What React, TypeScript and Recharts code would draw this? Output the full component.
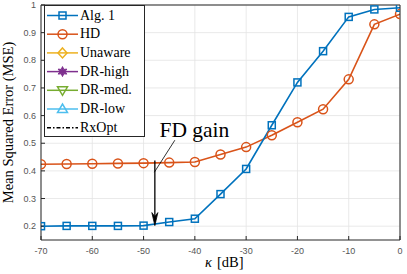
import React from 'react';
import {
  LineChart,
  Line,
  XAxis,
  YAxis,
  CartesianGrid,
  Legend,
  ReferenceLine,
  ReferenceDot,
  Label,
} from 'recharts';

const kappa = [-70, -65, -60, -55, -50, -45, -40, -35, -30, -25, -20, -15, -10, -5, 0];
const alg1 = [0.2, 0.201, 0.201, 0.201, 0.202, 0.215, 0.227, 0.316, 0.407, 0.565, 0.72, 0.833, 0.957, 0.984, 0.99];
const hd = [0.424, 0.425, 0.426, 0.427, 0.428, 0.43, 0.432, 0.459, 0.486, 0.529, 0.576, 0.623, 0.731, 0.93, 0.967];
const xTicks = [-70, -60, -50, -40, -30, -20, -10, 0];
const yTicks = [0.2, 0.3, 0.4, 0.5, 0.6, 0.7, 0.8, 0.9, 1];
const legendNames = ['Alg. 1', 'HD', 'Unaware', 'DR-high', 'DR-med.', 'DR-low', 'RxOpt'];
const legendColors = ['#0072BD', '#D95319', '#EDB120', '#7E2F8E', '#77AC30', '#4DBEEE', '#000000'];
const legendMarkers = ['square', 'circle', 'diamond', 'star', 'tridown', 'triup', 'none'];
const annotationText = 'FD gain';
const arrowX = -47.8;

const data = kappa.map((k, i) => ({ k, alg1: alg1[i], hd: hd[i] }));

const SERIF = '"Liberation Serif", serif';
const SANS = '"Liberation Sans", sans-serif';
const AXIS = '#262626';

const SquareDot = (p: any) => {
  if (p.cx == null || p.cy == null) return <g key={p.index} />;
  return (
    <rect
      key={p.index}
      x={p.cx - 3.5}
      y={p.cy - 3.5}
      width={7}
      height={7}
      fill="none"
      stroke={legendColors[0]}
      strokeWidth={1.5}
    />
  );
};

const marker = (type: string, cx: number, cy: number, color: string) => {
  switch (type) {
    case 'square':
      return <rect x={cx - 3.5} y={cy - 3.5} width={7} height={7} fill="none" stroke={color} strokeWidth={1.5} />;
    case 'circle':
      return <circle cx={cx} cy={cy} r={4.5} fill="none" stroke={color} strokeWidth={1.5} />;
    case 'diamond':
      return (
        <path
          d={`M${cx},${cy - 5} L${cx + 4.5},${cy} L${cx},${cy + 5} L${cx - 4.5},${cy} Z`}
          fill="none"
          stroke={color}
          strokeWidth={1.5}
        />
      );
    case 'star': {
      const pts: string[] = [];
      for (let i = 0; i < 12; i++) {
        const r = i % 2 === 0 ? 5 : 2.5;
        const a = (Math.PI / 6) * i - Math.PI / 2;
        pts.push(`${cx + r * Math.cos(a)},${cy + r * Math.sin(a)}`);
      }
      return <polygon points={pts.join(' ')} fill={color} stroke={color} strokeWidth={1} />;
    }
    case 'tridown':
      return (
        <path
          d={`M${cx - 5},${cy - 3.5} L${cx + 5},${cy - 3.5} L${cx},${cy + 5} Z`}
          fill="none"
          stroke={color}
          strokeWidth={1.5}
        />
      );
    case 'triup':
      return (
        <path
          d={`M${cx - 5},${cy + 3.5} L${cx + 5},${cy + 3.5} L${cx},${cy - 5} Z`}
          fill="none"
          stroke={color}
          strokeWidth={1.5}
        />
      );
    default:
      return null;
  }
};

const renderLegend = () => (
  <div
    style={{
      position: 'relative',
      width: 101,
      height: 132,
      border: `1px solid ${AXIS}`,
      background: '#fff',
      boxSizing: 'border-box',
    }}
  >
    <svg width={36} height={130} style={{ position: 'absolute', left: 0, top: 0 }}>
      {legendNames.map((name, i) => {
        const cy = 9.5 + i * 18.7;
        const color = legendColors[i];
        return (
          <g key={name}>
            <line
              x1={2}
              x2={33}
              y1={cy}
              y2={cy}
              stroke={color}
              strokeWidth={1.5}
              strokeDasharray={legendMarkers[i] === 'none' ? '4 2 1.5 2' : undefined}
            />
            {marker(legendMarkers[i], 17.5, cy, color)}
          </g>
        );
      })}
    </svg>
    {legendNames.map((name, i) => (
      <span
        key={name}
        style={{
          position: 'absolute',
          left: 35,
          top: 9.5 + i * 18.7 - 9,
          fontFamily: SERIF,
          fontSize: 14,
          lineHeight: '18px',
          color: '#000',
          whiteSpace: 'nowrap',
        }}
      >
        {name}
      </span>
    ))}
  </div>
);

const YLabel = () => {
  const x = 13;
  const y = 122.5;
  return (
    <text
      x={x}
      y={y}
      transform={`rotate(-90, ${x}, ${y})`}
      textAnchor="middle"
      style={{ fontFamily: SERIF, fontSize: 14.5 }}
      fill="#000"
    >
      Mean Squared Error (MSE)
    </text>
  );
};

const XLabel = () => {
  return (
    <g>
      <text x={212} y={267} textAnchor="end" style={{ fontFamily: SERIF, fontSize: 14.5, fontStyle: 'italic' }} fill="#000">
        κ
      </text>
      <text x={217} y={267} textAnchor="start" style={{ fontFamily: SERIF, fontSize: 14.5 }} fill="#000">
        [dB]
      </text>
    </g>
  );
};

const ArrowHead = (p: any) => {
  if (p.cx == null) return <g />;
  const { cx, cy } = p;
  return (
    <path
      d={`M${cx - 3},${cy - 13} L${cx},${cy} L${cx + 3},${cy - 13} L${cx},${cy - 9} Z`}
      fill="#000"
      stroke="#000"
      strokeWidth={0.8}
    />
  );
};

const AnnText = (p: any) => {
  if (p.cx == null) return <g />;
  return (
    <text x={p.cx} y={p.cy} style={{ fontFamily: SERIF, fontSize: 21.5 }} fill="#000">
      {annotationText}
    </text>
  );
};

export default function App() {
  const tickStyle = { fontSize: 9, fill: '#555555', fontFamily: SANS };
  return (
    <div style={{ position: 'absolute', left: 0, top: 0, background: '#fff' }}>
      <LineChart
        width={407}
        height={274}
        data={data}
        margin={{ top: 4, right: 6, left: 40, bottom: 33 }}
      >
        <CartesianGrid stroke="#e3e3e3" strokeWidth={0.8} horizontalValues={yTicks} verticalValues={xTicks} />
        <XAxis
          dataKey="k"
          type="number"
          domain={[-70, 0]}
          ticks={xTicks}
          height={1}
          axisLine={{ stroke: AXIS }}
          tickLine={{ stroke: AXIS }}
          tickSize={-4}
          tickMargin={12}
          tick={tickStyle}
          allowDataOverflow
          label={<Label content={XLabel} />}
        />
        <XAxis
          xAxisId="top"
          orientation="top"
          type="number"
          domain={[-70, 0]}
          ticks={xTicks}
          height={1}
          axisLine={{ stroke: AXIS }}
          tickLine={{ stroke: AXIS }}
          tickSize={-4}
          tick={false}
        />
        <YAxis
          type="number"
          domain={[0.15, 1]}
          ticks={yTicks}
          width={1}
          axisLine={{ stroke: AXIS }}
          tickLine={{ stroke: AXIS }}
          tickSize={-4}
          tickMargin={9}
          tick={tickStyle}
          tickFormatter={(v: number) => (v === 1 ? '1' : v.toFixed(1))}
          allowDataOverflow
          label={<Label content={YLabel} />}
        />
        <YAxis
          yAxisId="right"
          orientation="right"
          type="number"
          domain={[0.15, 1]}
          ticks={yTicks}
          width={1}
          axisLine={{ stroke: AXIS }}
          tickLine={{ stroke: AXIS }}
          tickSize={-4}
          tick={false}
        />
        <Line
          dataKey="hd"
          stroke={legendColors[1]}
          strokeWidth={1.6}
          dot={{ r: 4.5, fill: 'none', stroke: legendColors[1], strokeWidth: 1.5 }}
          isAnimationActive={false}
        />
        <Line
          dataKey="alg1"
          stroke={legendColors[0]}
          strokeWidth={1.6}
          dot={SquareDot}
          isAnimationActive={false}
        />
        <ReferenceLine
          segment={[
            { x: arrowX, y: 0.438 },
            { x: arrowX, y: 0.215 },
          ]}
          stroke="#000"
          strokeWidth={1.3}
        />
        <ReferenceLine
          segment={[
            { x: -43.9, y: 0.511 },
            { x: -47.9, y: 0.395 },
          ]}
          stroke="#000"
          strokeWidth={0.8}
        />
        <ReferenceDot x={arrowX} y={0.202} r={0} shape={ArrowHead} />
        <ReferenceDot x={-46.9} y={0.522} r={0} shape={AnnText} />
        <Legend
          content={renderLegend}
          layout="vertical"
          align="center"
          verticalAlign="middle"
          wrapperStyle={{ left: 44, top: 5, width: 101, height: 132 }}
        />
      </LineChart>
    </div>
  );
}
